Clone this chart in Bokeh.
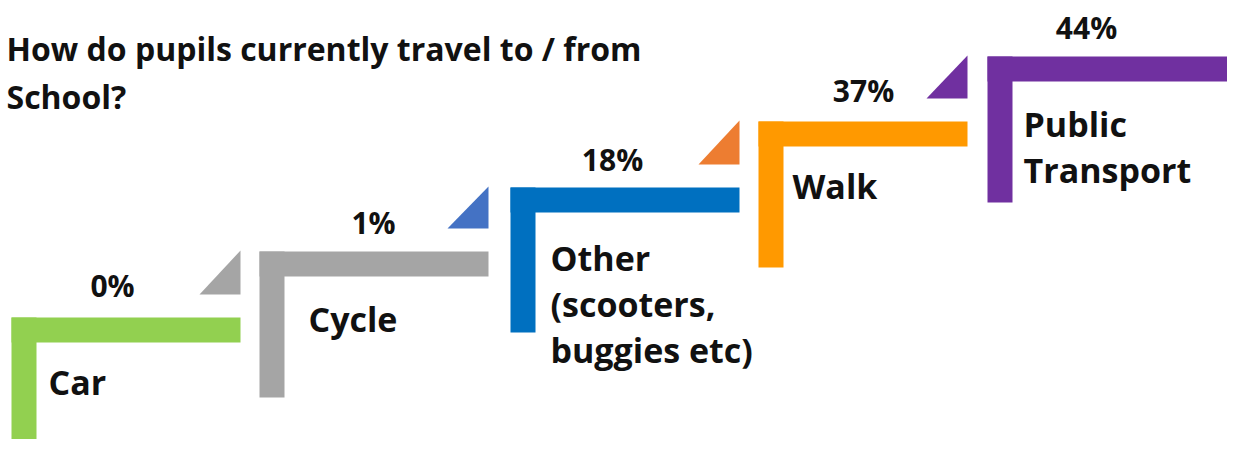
from bokeh.plotting import figure
from bokeh.models import Range1d
from bokeh.core.properties import value
from bokeh.embed import file_html
from bokeh.resources import INLINE

# ---- data ----
title_lines = ["How do pupils currently travel to / from", "School?"]
categories = ["Car", "Cycle", "Other\n(scooters,\nbuggies etc)", "Walk", "Public\nTransport"]
percent = [0, 1, 18, 37, 44]

# ---- styles ----
bar_colors = ["#92D050", "#A5A5A5", "#0070C0", "#FF9900", "#7030A0"]
tri_colors = [None, "#A5A5A5", "#4472C4", "#ED7D31", "#7030A0"]
FONT = "Open Sans"

# ---- layout (reference pixel space) ----
bar_left = [11, 259, 510, 758, 987]
bar_right = [240, 488, 739, 967, 1239]
bar_top = [317, 251, 187, 121, 56]
vert_len = [150, 146, 145, 146, 146]
thick = 25
tri_w, tri_gap = 41, 23
pct_x = [112, 373, 612, 863, 1086]
pct_base = [285, 222, 159, 90, 27]
lab_x = [48, 308, 550, 792, 1023]
lab_base = [381, 318, 257, 185, 123]
line_step = 46

p = figure(width=1227, height=439, output_backend="svg", toolbar_location=None,
           x_range=Range1d(0, 1227), y_range=Range1d(439, 0),
           min_border=0, outline_line_color=None)
p.axis.visible = False
p.grid.visible = False
p.background_fill_color = "white"

n = len(categories)
# horizontal arms
p.quad(left=bar_left, right=bar_right, top=bar_top,
       bottom=[t + thick for t in bar_top], fill_color=bar_colors, line_color=None)
# vertical arms
p.quad(left=bar_left, right=[l + thick for l in bar_left], top=bar_top,
       bottom=[t + v for t, v in zip(bar_top, vert_len)], fill_color=bar_colors, line_color=None)

# triangles
xs, ys, cs = [], [], []
for i in range(1, n):
    xr = bar_right[i - 1]
    yb = bar_top[i - 1] - tri_gap
    yt = bar_top[i] - 1
    xs.append([xr - tri_w, xr, xr])
    ys.append([yb, yb, yt])
    cs.append(tri_colors[i])
p.patches(xs=xs, ys=ys, fill_color=cs, line_color=None)

# percent labels
p.text(x=pct_x, y=pct_base, text=[f"{v}%" for v in percent], text_align="center",
       text_baseline="alphabetic", text_font=value(FONT), text_font_style="bold",
       text_font_size="30px", text_color="#111111")

# category labels (split into lines)
lx, ly, lt = [], [], []
for i, cat in enumerate(categories):
    for j, line in enumerate(cat.split("\n")):
        lx.append(lab_x[i])
        ly.append(lab_base[i] + j * line_step)
        lt.append(line)
p.text(x=lx, y=ly, text=lt, text_align="left", text_baseline="alphabetic",
       text_font=value(FONT), text_font_style="bold", text_font_size="34px",
       text_color="#111111")

# title
p.text(x=[6, 6], y=[48, 96], text=title_lines, text_align="left",
       text_baseline="alphabetic", text_font=value(FONT), text_font_style="bold",
       text_font_size="32px", text_color="#111111")

open("out.html", "w").write(file_html(p, INLINE))
